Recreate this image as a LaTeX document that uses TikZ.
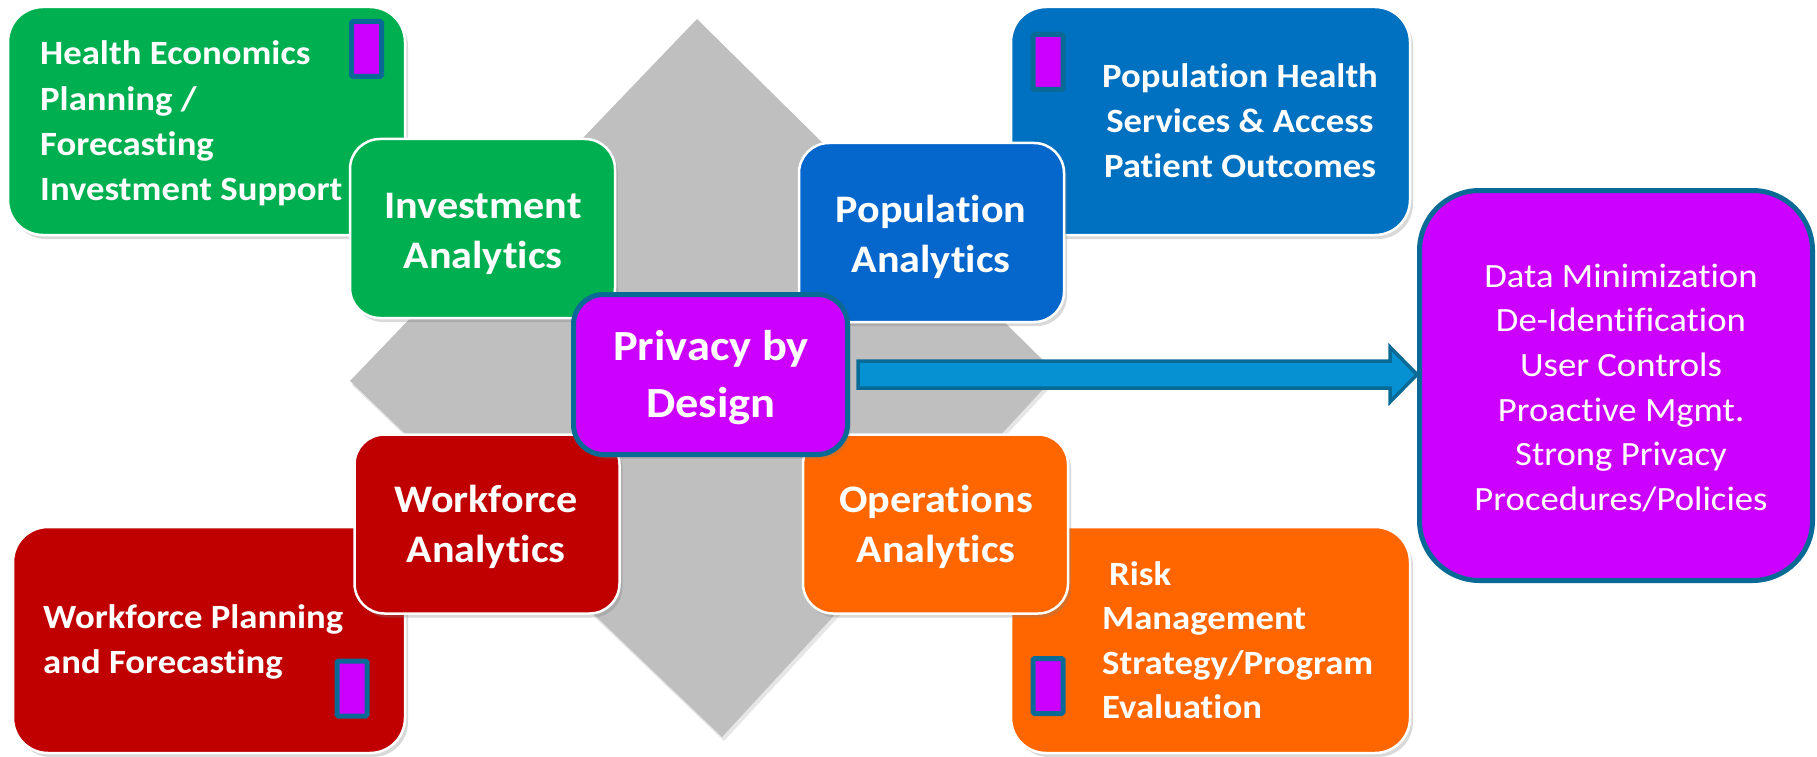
\documentclass[tikz,border=0pt]{standalone}
\usepackage{fontspec}
\setmainfont[FakeStretch=1.08,Ligatures=NoCommon]{Carlito}
\usetikzlibrary{shadows,calc}
\definecolor{cgreen}{HTML}{00B050}
\definecolor{cblueo}{HTML}{0070C0}
\definecolor{cbluei}{HTML}{0566CC}
\definecolor{cred}{HTML}{C00000}
\definecolor{corange}{HTML}{FF6600}
\definecolor{cpurple}{HTML}{CC00FF}
\definecolor{cteal}{HTML}{0A6A96}
\definecolor{carrow}{HTML}{0591D2}
\definecolor{cgrey}{HTML}{BFBFBF}
\begin{document}
\begin{tikzpicture}[x=1pt,y=-1pt,
  box/.style={rectangle, draw=white, line width=2.5pt, inner sep=0pt, outer sep=0pt,
    drop shadow={shadow xshift=3pt,shadow yshift=-4pt,opacity=0.3}},
  outerbox/.style={box, rounded corners=35pt},
  innerbox/.style={box, rounded corners=30pt, minimum width=265pt, minimum height=179pt},
  tagbox/.style={rectangle, fill=cpurple, draw=cteal, line width=5pt, minimum width=30pt,
    minimum height=55pt, inner sep=0pt, rounded corners=1.5pt},
  bt/.style={text=white, font=\bfseries\fontsize{34}{45}\selectfont, inner sep=0pt},
  bti/.style={text=white, font=\bfseries\fontsize{39}{50}\selectfont, inner sep=0pt, align=center, anchor=base},
  rt/.style={text=white, font=\fontsize{34}{44.7}\selectfont, inner sep=0pt, align=center, anchor=base},
  arrowsty/.style={fill=carrow, draw=cteal, line width=3.5pt, line join=miter}
]
\useasboundingbox (0,0) rectangle (1817,757);
% grey diamond
\fill[cgrey, drop shadow={shadow xshift=2pt,shadow yshift=-4pt,opacity=0.2}]
  (697,19) -- (1057,374) -- (722,737) -- (350,381) -- cycle;
% outer boxes
\node[outerbox, fill=cgreen, minimum width=397pt, minimum height=228pt] (gout) at (206.5,121) {};
\node[outerbox, fill=cblueo, minimum width=399pt, minimum height=228pt] (bout) at (1210.5,121) {};
\node[outerbox, fill=cred, minimum width=392pt, minimum height=226pt] (rout) at (209,640) {};
\node[outerbox, fill=corange, minimum width=399pt, minimum height=226pt] (oout) at (1210.5,640) {};
% inner boxes
\node[innerbox, fill=cgreen] (ginn) at (482.5,228.5) {};
\node[innerbox, fill=cbluei] (binn) at (931.5,232.5) {};
\node[innerbox, fill=cred] (rinn) at (487,524) {};
\node[innerbox, fill=corange] (oinn) at (935.5,524) {};
% small tags
\node[tagbox] (tg1) at (366.5,49) {};
\node[tagbox] (tg2) at (1048,62) {};
\node[tagbox] (tg3) at (352,688.5) {};
\node[tagbox] (tg4) at (1048,686) {};
% centre box
\node[rectangle, fill=cpurple, draw=cteal, line width=5pt, rounded corners=30pt,
  minimum width=274pt, minimum height=160pt, inner sep=0pt,
  drop shadow={shadow xshift=3pt,shadow yshift=-4pt,opacity=0.3}] (priv) at (710.5,374.5) {};
% right box
\node[rectangle, fill=cpurple, draw=cteal, line width=5pt, rounded corners=60pt,
  minimum width=393pt, minimum height=390pt, inner sep=0pt] (right) at (1616,385.5) {};
% arrow
\coordinate (tip) at (right.west |- priv.east);
\coordinate (tail) at ($(priv.east)+(8,0)$);
\draw[arrowsty] ($(tail)+(0,-13.5)$) -- ($(tip)+(-27,-13.5)$) -- ($(tip)+(-27,-27.5)$) -- (tip)
  -- ($(tip)+(-27,27.5)$) -- ($(tip)+(-27,13.5)$) -- ($(tail)+(0,13.5)$) -- cycle;
% texts (anchored at the baseline of the last line)
\node[bt, align=left, anchor=base west] (tgout) at (40,200) {Health Economics\\Planning /\\Forecasting\\Investment Support};
\node[bti] (tginn) at (483,268) {Investment\\Analytics};
\node[bt, align=center, anchor=base] (tbout) at (1240,177) {Population Health\\Services \& Access\\Patient Outcomes};
\node[bti] (tbinn) at (931,272) {Population\\Analytics};
\node[text=white, font=\bfseries\fontsize{43}{57}\selectfont, inner sep=0pt, align=center, anchor=base] (tpriv) at (711,417) {Privacy by\\Design};
\node[bti] (trinn) at (486,562) {Workforce\\Analytics};
\node[bt, align=left, anchor=base west] (trout) at (43,673) {Workforce Planning\\and Forecasting};
\node[bti] (toinn) at (936,562) {Operations\\Analytics};
\node[bt, font=\bfseries\fontsize{34}{44.5}\selectfont, align=left, anchor=base west] (toout) at (1102,718.5) {\hspace*{7pt}Risk\\Management\\Strategy/Program\\Evaluation};
\node[rt] (tright) at (1621,510.5) {Data Minimization\\De-Identification\\User Controls\\Proactive Mgmt.\\Strong Privacy\\Procedures/Policies};
\end{tikzpicture}
\end{document}
